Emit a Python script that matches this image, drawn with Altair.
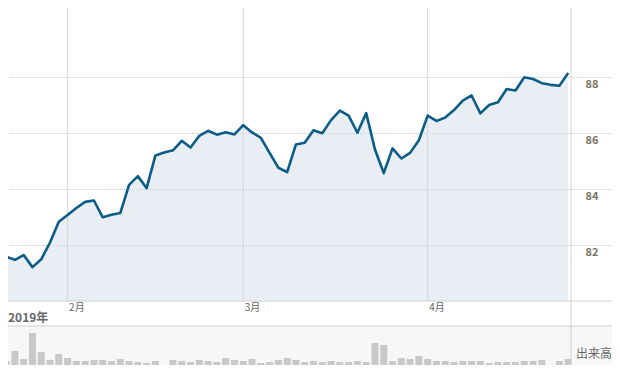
import altair as alt
import pandas as pd

FONT = "Noto Sans CJK JP"

# trading days (weekdays) shown on the chart
dates = pd.bdate_range("2019-01-23", "2019-04-23")

price = [81.58, 81.47, 81.64, 81.21, 81.49, 82.09, 82.83, 83.07, 83.32, 83.54,
         83.59, 82.99, 83.08, 83.14, 84.15, 84.46, 84.03, 85.20, 85.30, 85.38,
         85.72, 85.48, 85.90, 86.08, 85.94, 86.03, 85.95, 86.28, 86.02, 85.83,
         85.29, 84.76, 84.60, 85.59, 85.65, 86.10, 85.99, 86.46, 86.80, 86.62,
         86.01, 86.71, 85.41, 84.57, 85.45, 85.09, 85.29, 85.74, 86.62, 86.43,
         86.55, 86.82, 87.16, 87.34, 86.70, 87.00, 87.10, 87.57, 87.52, 87.99,
         87.93, 87.78, 87.72, 87.69, 88.14]

volume = [4, 14, 6, 32, 13, 5, 11, 7, 4, 4,
          5, 5, 4, 6, 4, 3, 2, 4, 0, 5,
          4, 3, 5, 4, 3, 7, 5, 4, 6, 2,
          3, 5, 7, 5, 3, 4, 3, 4, 3, 3,
          4, 3, 22, 20, 4, 7, 6, 9, 6, 4,
          4, 3, 4, 4, 4, 2, 3, 3, 3, 4,
          4, 5, 0, 4, 6]

price_ticks = [82, 84, 86, 88]
year_label = "2019年"
volume_label = "出来高"

W, H = 604, 357
PRICE_MIN, PRICE_MAX = 77.7143, 90.4643
BASE = 80
SEP_Y = 318

df = pd.DataFrame({
    "date": dates.strftime("%Y-%m-%d"),
    "k": list(range(len(dates))),
    "price": price,
    "volume": volume,
})

# first trading day of each month after the first
month_ticks = [i for i in range(1, len(dates)) if dates[i].month != dates[i - 1].month]
month_labels = [f"{dates[i].month}月" for i in month_ticks]
months_df = pd.DataFrame({"k": month_ticks, "label": month_labels})

label_expr = "''"
for t, l in reversed(list(zip(month_ticks, month_labels))):
    label_expr = f"datum.value == {t} ? '{l}' : ({label_expr})"

x_scale = alt.Scale(domain=[0.784, 68.42], nice=False, zero=False)
x_axis = alt.Axis(values=month_ticks, labelExpr=label_expr, orient="bottom", offset=-64,
                  ticks=False, tickSize=0, domain=False, grid=False,
                  labelAlign="left", labelBaseline="top", labelPadding=1, labelOffset=1,
                  labelFontSize=10, labelColor="#666666", labelFont=FONT, title=None,
                  labelFlush=False)
X = alt.X("k:Q", scale=x_scale, axis=x_axis)

y_scale = alt.Scale(domain=[PRICE_MIN, PRICE_MAX], nice=False, zero=False)
y_axis = alt.Axis(orient="right", values=price_ticks, offset=-27, ticks=False, tickSize=0,
                  domain=False, labelPadding=0, labelAlign="left", labelBaseline="top",
                  labelOffset=1, labelFontSize=11, labelFontWeight="bold",
                  labelColor="#7b7663", labelFont=FONT, grid=True, gridDash=[1, 1],
                  gridDashOffset=0.5, gridColor="#c6c6c6", title=None)
Y = alt.Y("price:Q", scale=y_scale, axis=y_axis)

one = pd.DataFrame({"v": [0]})

vol_bg = alt.Chart(one).mark_rect(color="#f7f7f7").encode(
    x=alt.value(0), x2=alt.value(W), y=alt.value(SEP_Y), y2=alt.value(H))

bars = alt.Chart(df).mark_bar(size=7, color="#c8c8c8").encode(
    x=X,
    y=alt.Y("volume:Q", scale=alt.Scale(domain=[0, H], nice=False, zero=True), axis=None),
)

area = alt.Chart(df).mark_area(color="#dae3ee", opacity=0.6).encode(
    x=X, y=Y, y2=alt.datum(BASE))
month_rules = alt.Chart(months_df).mark_rule(color="#d6d6d6").encode(
    x=X, y=alt.datum(PRICE_MAX), y2=alt.datum(BASE))
bottom_rule = alt.Chart(one).mark_rule(color="#cfcfcf").encode(
    y=alt.datum(BASE), x=alt.value(0), x2=alt.value(W))
line = alt.Chart(df).mark_line(color="#0b5d87", strokeWidth=2.6, strokeJoin="round").encode(
    x=X, y=Y)

price_layer = alt.layer(area, month_rules, bottom_rule, line)

sep_rule = alt.Chart(one).mark_rule(color="#d0d0d0").encode(
    x=alt.value(0), x2=alt.value(W), y=alt.value(SEP_Y))
right_border = alt.Chart(one).mark_rule(color="#d0d0d0").encode(
    x=alt.value(563), y=alt.value(0), y2=alt.value(H))

year_text = alt.Chart(pd.DataFrame({"t": [year_label]})).mark_text(
    align="left", baseline="alphabetic", font=FONT, fontSize=12, fontWeight="bold",
    color="#666666").encode(text="t:N", x=alt.value(0), y=alt.value(314))
vol_text = alt.Chart(pd.DataFrame({"t": [volume_label]})).mark_text(
    align="left", baseline="alphabetic", font=FONT, fontSize=12,
    color="#666666").encode(text="t:N", x=alt.value(568), y=alt.value(350))

chart = alt.layer(
    vol_bg, bars, price_layer, sep_rule, right_border, year_text, vol_text
).resolve_scale(y="independent").properties(
    width=W, height=H, autosize="none", padding=0, background="white",
).configure_view(stroke=None)

chart.save("out.html", embed_options={"renderer": "svg", "actions": False})
